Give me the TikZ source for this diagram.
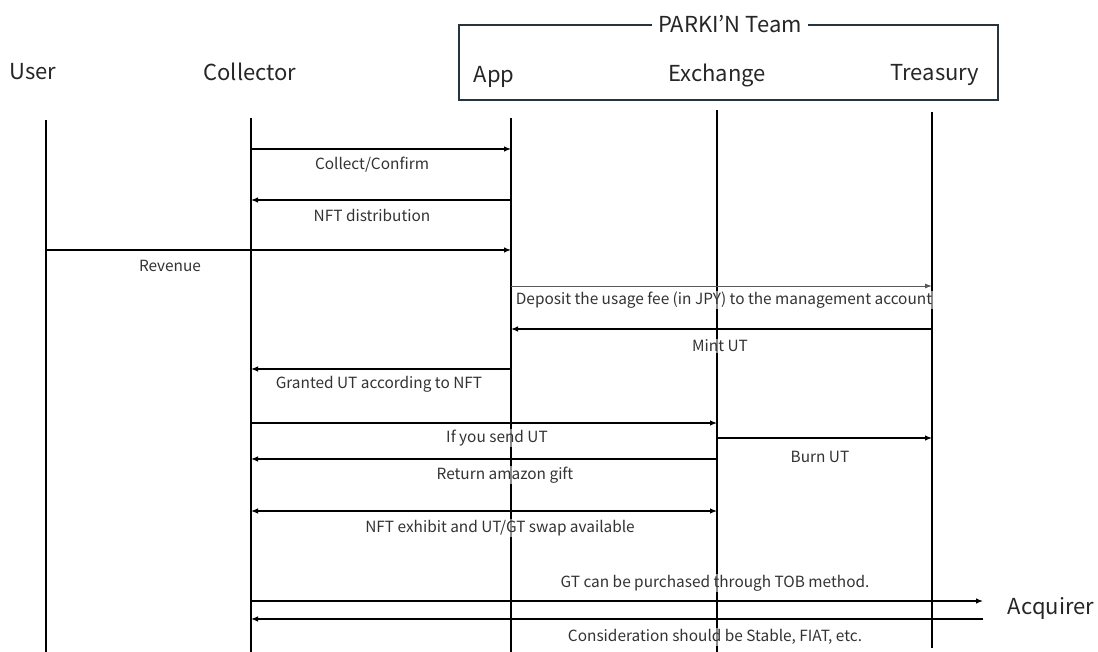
\documentclass[tikz,border=0pt]{standalone}
\usepackage{fontspec}
\setmainfont{Noto Sans CJK JP}
\usetikzlibrary{arrows.meta}
\begin{document}
\begin{tikzpicture}[x=1pt,y=-1pt,
  actor/.style={font=\fontsize{22}{25}\selectfont, text=black!85, inner sep=1pt},
  life/.style={line width=1.1pt, black},
  msg/.style={line width=1.2pt, -{Latex[length=7pt,width=5.5pt]}},
  msgg/.style={line width=0.9pt, black!65, -{Latex[length=7pt,width=5pt]}},
  lbl/.style={font=\fontsize{15.4}{17}\selectfont, text=black!80, inner sep=1pt, fill=white, fill opacity=0.55, text opacity=1}]
\useasboundingbox (0,0) rectangle (1098,652);
% team box
\draw[line width=1.2pt, draw={rgb,255:red,38;green,52;blue,64}] (459,25) rectangle (998,100);
\node[actor, fill=white, inner xsep=6pt] (team) at (730,24) {PARKI’N Team};
% actors
\node[actor] (user) at (33,72) {User};
\node[actor] (coll) at (250,72) {Collector};
\node[actor] (app) at (494,77) {App};
\node[actor] (exch) at (717,75) {Exchange};
\node[actor] (trea) at (935,75) {Treasury};
\node[actor] (acq) at (1051,608) {Acquirer};
% lifeline coordinates
\coordinate (uT) at (46,120); \coordinate (uB) at (46,652);
\coordinate (cT) at (251,118); \coordinate (cB) at (251,652);
\coordinate (aT) at (511,118); \coordinate (aB) at (511,652);
\coordinate (eT) at (717,110); \coordinate (eB) at (717,652);
\coordinate (tT) at (932,112); \coordinate (tB) at (932,648);
\draw[life] (uT) -- (uB);
\draw[life] (cT) -- (cB);
\draw[life] (aT) -- (aB);
\draw[life] (eT) -- (eB);
\draw[life] (tT) -- (tB);
% messages
\draw[msg] (cT |- 0,149) -- (aT |- 0,149);
\node[lbl] (l1) at (372,165) {Collect/Confirm};
\draw[msg] (aT |- 0,200) -- (cT |- 0,200);
\node[lbl] (l2) at (372,215) {NFT distribution};
\draw[msg] (uT |- 0,250) -- (aT |- 0,250);
\node[lbl] (l3) at (170,266) {Revenue};
\draw[msgg] (aT |- 0,286) -- (tT |- 0,286);
\node[lbl] (l4) at (724,300) {Deposit the usage fee (in JPY) to the management account};
\draw[msg] (tT |- 0,329) -- (aT |- 0,329);
\node[lbl] (l5) at (720,346) {Mint UT};
\draw[msg] (aT |- 0,369) -- (cT |- 0,369);
\node[lbl] (l6) at (379,384) {Granted UT according to NFT};
\draw[msg] (cT |- 0,423) -- (eT |- 0,423);
\node[lbl] (l7) at (497,438) {If you send UT};
\draw[msg] (eT |- 0,438) -- (tT |- 0,438);
\node[lbl] (l8) at (820,457) {Burn UT};
\draw[msg] (eT |- 0,459) -- (cT |- 0,459);
\node[lbl] (l9) at (505,475) {Return amazon gift};
\draw[msg, {Latex[length=7pt,width=5.5pt]}-{Latex[length=7pt,width=5.5pt]}] (cT |- 0,511) -- (eT |- 0,511);
\node[lbl] (l10) at (500,528) {NFT exhibit and UT/GT swap available};
\coordinate (acqIn) at (983,601);
\coordinate (acqOut) at (983,619);
\draw[msg] (cT |- 0,601) -- (acqIn);
\node[lbl] (l11) at (715,583) {GT can be purchased through TOB method.};
\draw[msg] (acqOut) -- (cT |- 0,619);
\node[lbl] (l12) at (715,637) {Consideration should be Stable, FIAT, etc.};
\end{tikzpicture}
\end{document}
